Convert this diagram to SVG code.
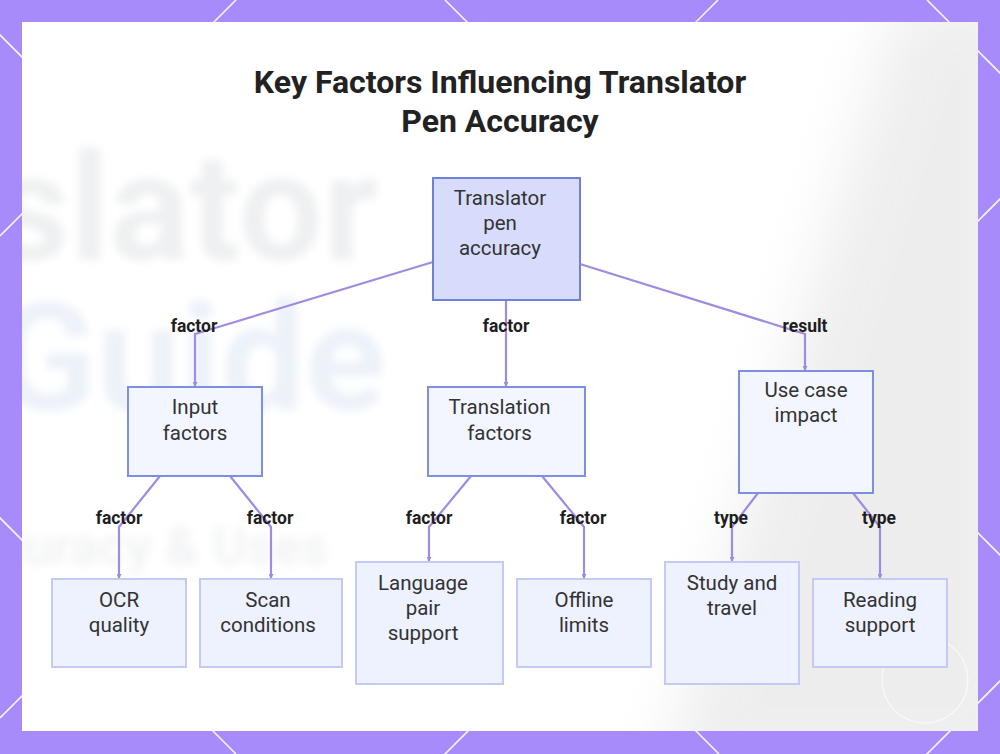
<svg xmlns="http://www.w3.org/2000/svg" width="1000" height="754" viewBox="0 0 1000 754">
<defs>
<style>
.title{font-family:Roboto,"Liberation Sans",sans-serif;font-weight:700;font-size:32px;fill:#222;text-anchor:middle}
.nt{font-family:Roboto,"Liberation Sans",sans-serif;font-size:20.5px;fill:#333;text-anchor:middle}
.el{font-family:Roboto,"Liberation Sans",sans-serif;font-weight:700;font-size:17.5px;fill:#1e1e1e;text-anchor:middle}
.root{fill:#d8dcfc;stroke:#6f80d8;stroke-width:2}
.mid{fill:#f4f6ff;stroke:#7d8fe0;stroke-width:2}
.leaf{fill:#eef1fe;stroke:#c3cbf5;stroke-width:2}
.edge{fill:none;stroke:#a08be2;stroke-width:2.2;marker-end:url(#arr)}
.bg{font-family:Roboto,"Liberation Sans",sans-serif;font-weight:700;text-anchor:end}
</style>
<marker id="arr" markerWidth="5" markerHeight="5" refX="4" refY="2.5" orient="auto" markerUnits="userSpaceOnUse">
<path d="M0,0 L5,2.5 L0,5 z" fill="#a08be2"/>
</marker>
<filter id="blur" x="-20%" y="-20%" width="140%" height="140%"><feGaussianBlur stdDeviation="4"/></filter>
<filter id="blur3" x="-20%" y="-50%" width="140%" height="200%"><feGaussianBlur stdDeviation="5"/></filter>
<filter id="blur2" x="-50%" y="-50%" width="200%" height="200%"><feGaussianBlur stdDeviation="30"/></filter>
<clipPath id="card"><rect x="22" y="22" width="956" height="709"/></clipPath>
</defs>
<rect x="0" y="0" width="1000" height="754" fill="#a78bfa"/>
<g stroke="#ffffff" stroke-width="1.6" opacity="0.9">
<line x1="0" y1="236" x2="236" y2="0"/>
<line x1="0" y1="718" x2="718" y2="0"/>
<line x1="245" y1="954" x2="1199" y2="0"/>
<line x1="727" y1="954" x2="1681" y2="0"/>
<line x1="-518" y1="0" x2="236" y2="754"/>
<line x1="-35" y1="0" x2="719" y2="754"/>
<line x1="445" y1="0" x2="1199" y2="754"/>
<line x1="927" y1="0" x2="1681" y2="754"/>
</g>
<rect x="22" y="22" width="956" height="709" fill="#ffffff"/>
<g clip-path="url(#card)">
<polygon points="900,0 1030,0 1030,780 660,780" fill="#ebebeb" opacity="0.85" filter="url(#blur2)"/>
<text class="bg" x="378" y="260" font-size="150" fill="#eff0f1" filter="url(#blur)">Translator</text>
<text class="bg" x="386" y="410" font-size="150" fill="#edf2f9" filter="url(#blur)">Guide</text>
<text class="bg" x="328" y="564" font-size="52" fill="#f2f3f4" filter="url(#blur3)">Accuracy &amp; Uses</text>
<circle cx="925" cy="680" r="43" fill="none" stroke="#ffffff" stroke-width="1.2" opacity="0.7"/>
</g>
<g id="title">
<text class="title" x="500" y="93">Key Factors Influencing Translator</text>
<text class="title" x="500" y="132">Pen Accuracy</text>
</g>
<g id="connectors">
<path class="edge" d="M433,262 L195,334 L195,386"/>
<path class="edge" d="M506,300 L506,386"/>
<path class="edge" d="M580,264 L805,334 L805,370"/>
<path class="edge" d="M160,476 L119,527 L119,578"/>
<path class="edge" d="M230,476 L271,527 L271,578"/>
<path class="edge" d="M471,476 L429,527 L429,561"/>
<path class="edge" d="M542,476 L584,527 L584,578"/>
<path class="edge" d="M758,493 L732,527 L732,561"/>
<path class="edge" d="M853,493 L880,527 L880,578"/>
<text class="el" x="194" y="332">factor</text>
<text class="el" x="506" y="332">factor</text>
<text class="el" x="805" y="332">result</text>
<text class="el" x="119" y="524">factor</text>
<text class="el" x="270" y="524">factor</text>
<text class="el" x="429" y="524">factor</text>
<text class="el" x="583" y="524">factor</text>
<text class="el" x="731" y="524">type</text>
<text class="el" x="879" y="524">type</text>
</g>
<g id="root">
<rect class="root" x="433" y="178" width="147" height="122"/>
<text class="nt" x="500" y="205">Translator</text>
<text class="nt" x="500" y="230">pen</text>
<text class="nt" x="500" y="255">accuracy</text>
</g>
<g id="input">
<rect class="mid" x="128" y="387" width="134" height="89"/>
<text class="nt" x="195" y="414">Input</text>
<text class="nt" x="195" y="439.5">factors</text>
</g>
<g id="translation">
<rect class="mid" x="428" y="387" width="157" height="89"/>
<text class="nt" x="499.5" y="414">Translation</text>
<text class="nt" x="499.5" y="439.5">factors</text>
</g>
<g id="usecase">
<rect class="mid" x="739" y="371" width="134" height="122"/>
<text class="nt" x="806" y="397">Use case</text>
<text class="nt" x="806" y="422">impact</text>
</g>
<g id="ocr">
<rect class="leaf" x="52" y="579" width="134" height="88"/>
<text class="nt" x="119" y="607">OCR</text>
<text class="nt" x="119" y="632">quality</text>
</g>
<g id="scan">
<rect class="leaf" x="200" y="579" width="142" height="88"/>
<text class="nt" x="268" y="607">Scan</text>
<text class="nt" x="268" y="632">conditions</text>
</g>
<g id="language">
<rect class="leaf" x="356" y="562" width="147" height="122"/>
<text class="nt" x="423" y="590">Language</text>
<text class="nt" x="423" y="615">pair</text>
<text class="nt" x="423" y="640">support</text>
</g>
<g id="offline">
<rect class="leaf" x="517" y="579" width="134" height="88"/>
<text class="nt" x="584" y="607">Offline</text>
<text class="nt" x="584" y="632">limits</text>
</g>
<g id="study">
<rect class="leaf" x="665" y="562" width="134" height="122"/>
<text class="nt" x="732" y="590">Study and</text>
<text class="nt" x="732" y="615">travel</text>
</g>
<g id="reading">
<rect class="leaf" x="813" y="579" width="134" height="88"/>
<text class="nt" x="880" y="607">Reading</text>
<text class="nt" x="880" y="632">support</text>
</g>
</svg>
